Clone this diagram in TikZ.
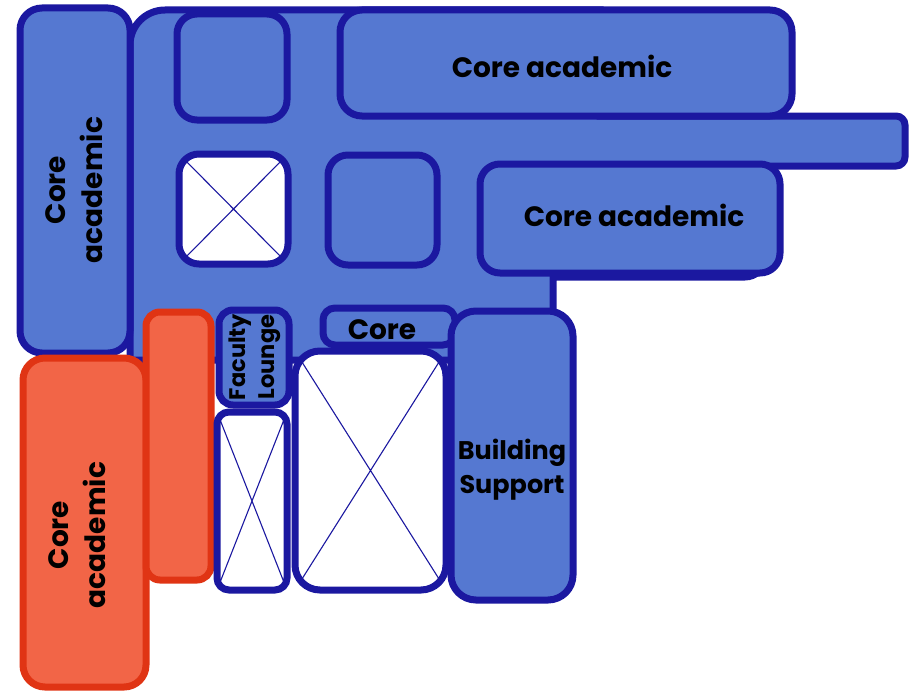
\documentclass[tikz,border=0pt]{standalone}
\usepackage{fontspec}
\setmainfont{Poppins}
\definecolor{lb}{HTML}{5578D1}
\definecolor{dkb}{HTML}{1B18A0}
\definecolor{orf}{HTML}{F26547}
\definecolor{ors}{HTML}{E03414}
\tikzset{
  room/.style={draw=dkb, fill=lb, line width=7pt, inner sep=0pt, outer sep=0pt, rounded corners=#1, anchor=north west},
  room/.default=20pt,
  orroom/.style={room=#1, draw=ors, fill=orf},
  orroom/.default=20pt,
  voidroom/.style={room=#1, fill=white},
  voidroom/.default=20pt,
  diag/.style={draw=dkb, line width=1.1pt},
  lbl/.style={text=black, font=\bfseries\fontsize{28}{37}\selectfont, align=center, inner sep=0pt},
  slbl/.style={lbl, font=\bfseries\fontsize{25.5}{34}\selectfont},
  tlbl/.style={lbl, font=\bfseries\fontsize{22.5}{29}\selectfont},
}
\begin{document}
\begin{tikzpicture}[x=1pt,y=-1pt]
\useasboundingbox (0,0) rectangle (912,693);
% background floor shape
\draw[draw=dkb, fill=lb, line width=7pt]
  (130,360) [rounded corners=35pt] -- (130,10) [sharp corners] -- (600,10) -- (600,116)
  [rounded corners=9pt] -- (905,116) -- (905,166) [sharp corners] -- (765,166)
  [rounded corners=20pt] -- (765,277) [sharp corners] -- (553,277) -- (553,360) -- cycle;
% rooms
\node[room=22pt, minimum width=110pt, minimum height=345pt] (L) at (20,8) {};
\node[room=20pt, minimum width=110pt, minimum height=106pt] (S1) at (177,14) {};
\node[room=22pt, minimum width=452pt, minimum height=106pt] (T) at (340,10) {};
\node[voidroom=20pt, minimum width=109pt, minimum height=110pt] (X1) at (179,154) {};
\node[room=20pt, minimum width=109pt, minimum height=110pt] (S2) at (328,155) {};
\node[room=20pt, minimum width=300pt, minimum height=109pt] (C2) at (480,164) {};
\node[orroom=22pt, minimum width=123pt, minimum height=329pt] (O1) at (23,358) {};
\node[orroom=14pt, minimum width=65pt, minimum height=268pt] (O2) at (146,312) {};
\node[room=14pt, minimum width=70pt, minimum height=95pt] (FL) at (219,310) {};
\node[voidroom=12pt, minimum width=70pt, minimum height=178pt] (X2) at (217,412) {};
\node[room=12pt, minimum width=132pt, minimum height=37pt] (CS) at (323,308) {};
\node[voidroom=25pt, minimum width=151pt, minimum height=239pt] (X3) at (295,351) {};
\node[room=25pt, minimum width=122pt, minimum height=289pt] (BS) at (451,311) {};
% crossed voids
\begin{scope}
  \clip[rounded corners=20pt] (179,154) rectangle (288,264);
  \draw[diag] (X1.north west) -- (X1.south east) (X1.north east) -- (X1.south west);
\end{scope}
\begin{scope}
  \clip[rounded corners=12pt] (217,412) rectangle (287,590);
  \draw[diag] (X2.north west) -- (X2.south east) (X2.north east) -- (X2.south west);
\end{scope}
\begin{scope}
  \clip[rounded corners=25pt] (295,351) rectangle (446,590);
  \draw[diag] (X3.north west) -- (X3.south east) (X3.north east) -- (X3.south west);
\end{scope}
% labels
\node[lbl] (tT) at (562,66) {Core academic};
\node[lbl] (tC2) at (634,215) {Core academic};
\node[lbl, rotate=90] (tL) at (74,190) {Core\\academic};
\node[lbl, rotate=90] (tO1) at (77,535) {Core\\academic};
\node[tlbl, rotate=90] (tFL) at (255,357) {Faculty\\Lounge};
\node[lbl] (tCS) at (382,330) {Core};
\node[slbl] (tBS) at (512,470) {Building\\Support};
\end{tikzpicture}
\end{document}
